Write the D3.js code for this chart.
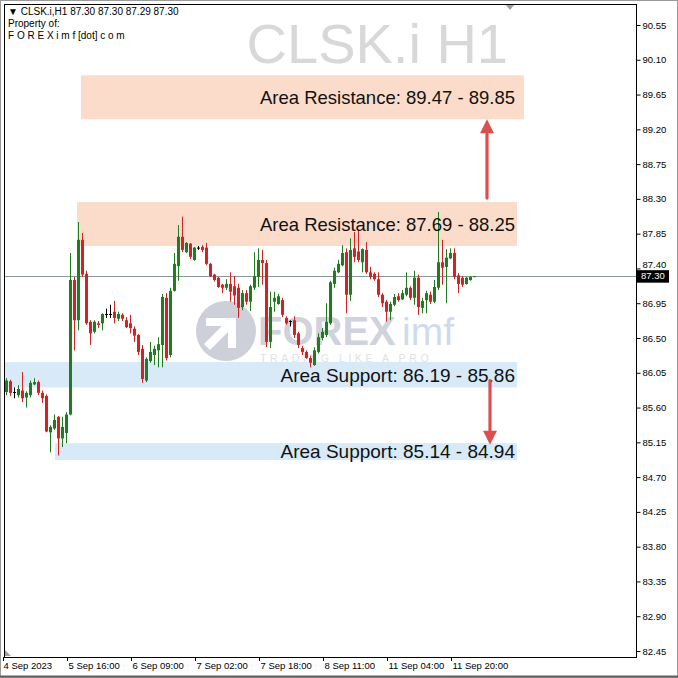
<!DOCTYPE html>
<html><head><meta charset="utf-8">
<script src="https://cdn.jsdelivr.net/npm/d3@7/dist/d3.min.js"></script>
<style>html,body{margin:0;padding:0;background:#fff;overflow:hidden}svg{display:block}</style>
</head><body>
<script>
// ---- data ----
const opens  = [85.80,85.94,85.80,85.76,85.82,85.73,85.76,85.90,85.93,85.79,85.75,85.28,85.33,85.48,85.20,85.27,85.51,87.25,86.73,87.77,87.33,86.71,86.58,86.69,86.69,86.81,86.81,86.84,86.75,86.80,86.73,86.69,86.62,86.54,86.36,85.95,86.20,86.28,86.34,86.41,87.02,86.28,87.11,87.43,87.81,87.61,87.72,87.51,87.67,87.68,87.67,87.46,87.32,87.28,87.19,87.15,87.20,87.17,87.15,86.90,87.08,86.97,87.15,87.29,87.51,87.47,86.45,86.97,86.94,86.99,86.76,86.72,86.73,86.56,86.37,86.32,86.24,86.15,86.32,86.50,86.54,86.69,87.20,87.35,87.44,87.61,87.06,87.66,87.62,87.48,87.64,87.35,87.33,87.26,87.06,86.97,86.84,86.93,87.04,87.00,87.06,87.15,87.02,87.28,86.89,86.99,87.06,86.97,87.15,87.48,87.42,87.53,87.60,87.31,87.28,87.20,87.25,87.29];
const highs  = [85.98,85.96,85.86,85.89,86.06,85.81,85.95,85.98,85.95,85.82,85.77,85.37,85.51,85.49,85.48,85.54,87.60,87.29,88.00,87.86,87.37,86.73,86.73,86.72,86.82,86.88,86.93,86.98,86.84,86.82,86.77,86.80,86.65,86.55,86.41,86.25,86.45,86.40,86.51,87.07,87.08,87.15,87.60,87.96,88.07,87.74,87.73,87.68,87.69,87.70,87.73,87.47,87.33,87.29,87.20,87.26,87.35,87.30,87.20,87.12,87.12,87.19,87.61,87.66,87.64,87.51,87.10,87.10,87.07,87.02,86.78,86.73,86.78,86.58,86.40,86.34,86.27,86.38,86.56,86.63,86.95,87.24,87.41,87.51,87.70,87.66,87.79,87.87,87.90,87.66,87.74,87.42,87.35,87.35,87.08,86.99,86.97,87.07,87.08,87.12,87.35,87.17,87.37,87.32,87.02,87.11,87.10,87.25,88.13,87.77,87.65,87.66,87.66,87.34,87.30,87.29,87.30,87.30];
const lows   = [85.76,85.75,85.72,85.73,85.67,85.60,85.73,85.89,85.76,85.66,85.28,85.02,85.31,84.98,85.09,85.14,85.50,86.34,86.60,87.29,86.67,86.41,86.56,86.63,86.60,86.76,86.76,86.69,86.72,86.72,86.63,86.56,86.45,86.28,85.92,85.93,86.18,86.15,86.12,86.12,86.21,86.25,87.10,87.24,87.61,87.60,87.52,87.50,87.64,87.61,87.44,87.29,87.23,87.15,87.08,87.12,86.97,86.93,86.76,86.86,86.93,86.85,87.12,87.16,87.19,86.38,86.37,86.84,86.93,86.77,86.67,86.65,86.50,86.37,86.28,86.23,86.12,86.14,86.30,86.47,86.51,86.67,87.15,87.34,87.43,86.82,86.98,87.48,87.48,87.35,87.33,87.26,87.24,87.03,86.90,86.71,86.73,86.91,86.97,86.99,87.04,86.99,86.93,86.80,86.82,86.82,86.94,86.95,87.12,87.19,86.95,87.52,87.26,87.08,87.16,87.19,87.24,87.29];
const closes = [85.95,85.79,85.80,85.84,85.72,85.79,85.92,85.93,85.79,85.72,85.29,85.35,85.44,85.20,85.35,85.51,87.25,86.73,87.77,87.32,86.69,86.56,86.71,86.67,86.81,86.81,86.81,86.76,86.81,86.75,86.64,86.63,86.53,86.32,85.97,86.23,86.32,86.36,86.42,87.03,86.24,87.11,87.46,87.81,87.64,87.73,87.55,87.67,87.67,87.64,87.46,87.30,87.25,87.16,87.15,87.20,87.10,87.05,86.89,87.08,86.97,87.17,87.30,87.51,87.47,86.45,86.90,87.02,87.04,86.80,86.69,86.72,86.54,86.41,86.32,86.24,86.18,86.34,86.51,86.58,86.71,87.22,87.37,87.46,87.60,87.06,87.64,87.55,87.51,87.65,87.35,87.29,87.26,87.06,86.95,86.84,86.94,87.03,86.99,87.08,87.15,87.02,87.28,86.90,86.98,87.08,86.97,87.16,87.48,87.41,87.54,87.60,87.29,87.20,87.19,87.28,87.29,87.30];

const timeLabels = ["4 Sep 2023","5 Sep 16:00","6 Sep 09:00","7 Sep 02:00","7 Sep 18:00","8 Sep 11:00","11 Sep 04:00","11 Sep 20:00"];
const timeLabelBars = [0,16,32,48,64,80,96,112];
const priceTicks = [90.55,90.10,89.65,89.20,88.75,88.30,87.85,87.40,86.95,86.50,86.05,85.60,85.15,84.70,84.25,83.80,83.35,82.90,82.45];

const zoneLabels = ["Area Resistance: 89.47 - 89.85","Area Resistance: 87.69 - 88.25","Area Support: 86.19 - 85.86","Area Support: 85.14 - 84.94"];
const zoneKinds  = ["res","res","sup","sup"];
const zoneTops   = [89.90,88.26,86.19,85.14];
const zoneBottoms= [89.33,87.69,85.86,84.92];
const zoneStartBar = [18.75,17.75,-0.5,12.25];
const zoneEndBar   = [129.5,127.75,127.75,127.75];

const arrowBar  = [120.25,121];
const arrowFrom = [88.31,85.95];
const arrowTo   = [89.33,85.12];

const lastPrice = 87.30;
const symbol = "CLSK.i H1";
const header = ["\u25BC CLSK.i,H1  87.30 87.30 87.29 87.30","Property of:","F O R E X i m f [dot] c o m"];

// ---- layout ----
const W = 678, H = 678;
const plot = {l:4, t:4, r:636, b:657};
const FONT = "Liberation Sans, Arial, sans-serif";
const svg = d3.select("body").append("svg").attr("width",W).attr("height",H);
svg.append("rect").attr("width",W).attr("height",H).attr("fill","#fff");

const x = d3.scaleLinear().domain([0, opens.length-1]).range([6, 6 + 4*(opens.length-1)]);
const y = d3.scaleLinear().domain([82.45, 90.55]).range([651, 25]);

const g = svg.append("g");
svg.append("clipPath").attr("id","pc").append("rect")
  .attr("x",plot.l).attr("y",plot.t).attr("width",plot.r-plot.l).attr("height",plot.b-plot.t);
const pg = g.append("g").attr("clip-path","url(#pc)");

// big symbol watermark
pg.append("text").attr("x",508).attr("y",63).attr("text-anchor","end")
  .attr("font-family",FONT).attr("font-size",56)
  .attr("fill","#d8d8d8").text(symbol);

// logo watermark
const logo = pg.append("g").attr("opacity",0.9);
logo.append("circle").attr("cx",226).attr("cy",331).attr("r",30).attr("fill","#c9cbd5");
logo.append("path").attr("d","M206,318 L236,318 L236,348 L228,348 L228,332 L210,350 L204,344 L222,326 L206,326 Z").attr("fill","#fff");
logo.append("text").attr("x",258).attr("y",345).attr("font-family",FONT)
  .attr("font-weight","bold").attr("font-size",40).attr("fill","#cdcfd9").text("FOREX");
logo.append("text").attr("x",402).attr("y",345).attr("font-family",FONT)
  .attr("font-size",39).attr("fill","#cbd7ec").text("imf");
logo.append("text").attr("x",260).attr("y",361.5).attr("font-family",FONT)
  .attr("font-size",10.5).attr("letter-spacing",3.6).attr("fill","#dedede").text("TRADING LIKE A PRO");

// zones
const zones = d3.range(zoneLabels.length);
pg.selectAll("rect.zone").data(zones).join("rect").attr("class","zone")
  .attr("x",i=>x(zoneStartBar[i])).attr("width",i=>x(zoneEndBar[i])-x(zoneStartBar[i]))
  .attr("y",i=>y(zoneTops[i])).attr("height",i=>y(zoneBottoms[i])-y(zoneTops[i]))
  .attr("fill",i=>zoneKinds[i]==="res"?"#fbdccb":"#d8e9f8");

// current price line
pg.append("line").attr("x1",plot.l).attr("x2",plot.r).attr("y1",Math.round(y(lastPrice))+0.5).attr("y2",Math.round(y(lastPrice))+0.5)
  .attr("stroke","#8a979c").attr("stroke-width",1);

// candles
const up = "#1f7d1f", dn = "#d42222", dj = "#000";
const bars = d3.range(opens.length);
const col = i => closes[i]>opens[i]?up:(closes[i]<opens[i]?dn:dj);
pg.selectAll("line.wick").data(bars).join("line").attr("class","wick")
  .attr("x1",i=>Math.round(x(i))+0.5).attr("x2",i=>Math.round(x(i))+0.5)
  .attr("y1",i=>y(highs[i])).attr("y2",i=>y(lows[i]))
  .attr("stroke",col).attr("stroke-width",1);
pg.selectAll("rect.body").data(bars).join("rect").attr("class","body")
  .attr("x",i=>Math.round(x(i))-1).attr("width",3)
  .attr("y",i=>y(Math.max(opens[i],closes[i])))
  .attr("height",i=>Math.max(1, y(Math.min(opens[i],closes[i]))-y(Math.max(opens[i],closes[i]))))
  .attr("fill",col);

// zone labels
pg.selectAll("text.zl").data(zones).join("text").attr("class","zl")
  .attr("x",i=>x(zoneEndBar[i]) - (i===0?9:2))
  .attr("y",i=>(y(zoneTops[i])+y(zoneBottoms[i]))/2)
  .attr("dy","0.36em").attr("text-anchor","end")
  .attr("font-family",FONT).attr("font-size",i=>zoneKinds[i]==="res"?18.5:19)
  .attr("fill","#111").text(i=>zoneLabels[i]);

// arrows
const ac = "#dc4f4f";
arrowBar.forEach((b,i)=>{
  const ax = x(b), y0 = y(arrowFrom[i]), y1 = y(arrowTo[i]);
  const dir = y1<y0 ? -1 : 1;
  pg.append("line").attr("x1",ax).attr("x2",ax).attr("y1",y0).attr("y2",y1 - dir*12)
    .attr("stroke",ac).attr("stroke-width",3.2).attr("stroke-linecap","round");
  pg.append("path").attr("d",`M${ax},${y1} L${ax-7},${y1-dir*14} L${ax+7},${y1-dir*14} Z`).attr("fill",ac);
});

// header text
header.forEach((t,i)=>{
  g.append("text").attr("x",8).attr("y",15+i*12).attr("font-family",FONT)
    .attr("font-size",10).attr("fill","#000").text(t);
});

// shift markers
g.append("path").attr("d","M505,4 L515,4 L510,10 Z").attr("fill","#a0a0a0");
g.append("path").attr("d","M5,650 L5,656 L11,656 Z").attr("fill","#a0a0a0");

// plot frame
g.append("rect").attr("x",plot.l+0.5).attr("y",plot.t+0.5).attr("width",plot.r-plot.l).attr("height",plot.b-plot.t)
  .attr("fill","none").attr("stroke","#000");

// right axis
const ra = d3.axisRight(y).tickValues(priceTicks).tickSize(4).tickPadding(2).tickFormat(d3.format(".2f"));
const rag = svg.append("g").attr("transform",`translate(${plot.r+0.5},0)`).call(ra);
rag.select(".domain").remove();
rag.selectAll("text").attr("font-family",FONT).attr("font-size",9.5).attr("fill","#000")
  .attr("dy",d=>Math.abs(d-lastPrice)<0.2?"-0.05em":"0.32em");
rag.selectAll("line").attr("stroke","#000");

// current price tag
const py = y(lastPrice);
svg.append("rect").attr("x",plot.r+1).attr("y",py-6).attr("width",32).attr("height",12.5).attr("fill","#000");
svg.append("text").attr("x",plot.r+5).attr("y",py).attr("dy","0.35em").attr("font-family",FONT)
  .attr("font-size",9.5).attr("fill","#fff").text(d3.format(".2f")(lastPrice));

// bottom axis
const bg = svg.append("g");
timeLabelBars.forEach((b,i)=>{
  const tx = Math.round(x(b)) - 3 + 0.5;
  bg.append("line").attr("x1",tx).attr("x2",tx).attr("y1",plot.b).attr("y2",plot.b+4).attr("stroke","#000");
  bg.append("text").attr("x",tx+(i===0?0:1)).attr("y",669).attr("font-family",FONT)
    .attr("font-size",9.5).attr("fill","#000").text(timeLabels[i]);
});

// window border
svg.append("rect").attr("x",0.5).attr("y",0.5).attr("width",W-1).attr("height",H-1).attr("fill","none").attr("stroke","#9a9a9a");
svg.append("line").attr("x1",0).attr("x2",W).attr("y1",H-1.5).attr("y2",H-1.5).attr("stroke","#606060").attr("stroke-width",2);
</script>
</body></html>
